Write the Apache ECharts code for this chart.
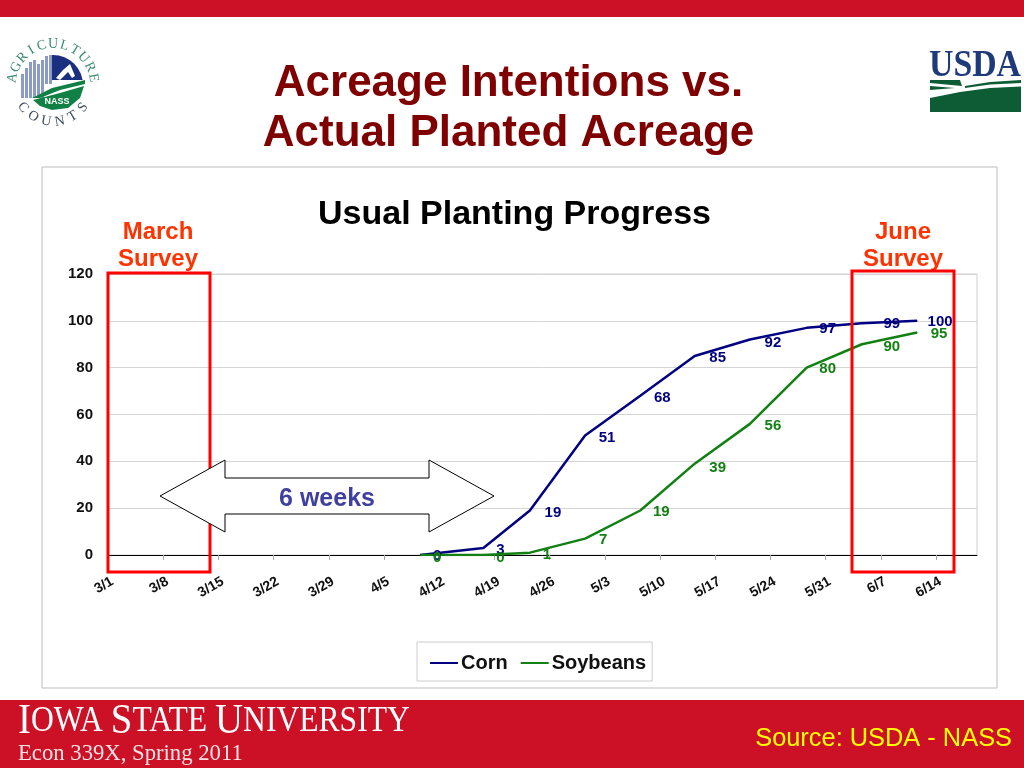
<!DOCTYPE html>
<html><head><meta charset="utf-8">
<style>html,body{margin:0;padding:0;background:#fff}#c{width:1024px;height:768px}</style>
<script src="https://cdn.jsdelivr.net/npm/echarts@6/dist/echarts.min.js"></script>
</head><body><div id="c"></div>
<script>
const tickLabels = ['3/1','3/8','3/15','3/22','3/29','4/5','4/12','4/19','4/26','5/3','5/10','5/17','5/24','5/31','6/7','6/14'];
const surveyDays = [39.6,47.6,53.5,60.5,67.5,74.4,81.4,88.6,95.6,102.6];
const cornValues = [0,3,19,51,68,85,92,97,99,100];
const soyValues = [0,0,1,7,19,39,56,80,90,95];

const cornOffsets = [[17,1],[17,2],[23,2],[22,2],[22,2],[23,2],[23,3],[21,1],[30,1],[23,1]];
const soyOffsets = [[17,3],[17,3],[17,2],[18,1],[21,1],[23,4],[23,2],[21,1],[30,3],[22,1]];
const F = '"Liberation Sans",Arial,sans-serif';
const S = '"Liberation Serif","Times New Roman",serif';

function series(name, values, offsets, color) {
  return {
    name, type:'line', symbol:'circle', symbolSize:1, showSymbol:true, showAllSymbol:true,
    lineStyle:{color, width:2.5}, itemStyle:{color},
    z:3, animation:false,
    labelLayout:p=>({dx:offsets[p.dataIndex][0], dy:offsets[p.dataIndex][1]}),
    data: values.map((v,i)=>({
      value:[surveyDays[i], v],
      label:{show:true, position:'inside', formatter:String(v),
             color, fontFamily:F, fontWeight:'bold', fontSize:15}
    }))
  };
}
function arcText(text, cx, cy, r, startDeg, stepDeg, color, inward) {
  return text.split('').map((ch,i)=>{
    const a = (startDeg + stepDeg*i) * Math.PI/180;
    return {type:'text', x:cx+r*Math.cos(a), y:cy-r*Math.sin(a), rotation: a + (inward? Math.PI/2 : -Math.PI/2),
      style:{text:ch, fill:color, font:'14px '+S, align:'center', verticalAlign:'middle'}, z:20};
  });
}
const logoBars = [];
[21,25,29,33,37,41,45,49].forEach((x,i)=>{
  const top = [74,68,62,60,64,60,56,55][i];
  logoBars.push({type:'rect', shape:{x, y:top, width:3, height:98-top-(i>5?14:0)}, style:{fill:'#8d9cc6'}, z:20});
});
const graphic = [
  {type:'rect', shape:{x:0,y:0,width:1024,height:17}, style:{fill:'#CC1126'}, z:1},
  {type:'rect', shape:{x:0,y:700,width:1024,height:68}, style:{fill:'#CC1126'}, z:1},
  {type:'rect', shape:{x:42,y:167,width:955,height:521}, style:{fill:'none',stroke:'#bdbdbd',lineWidth:1}, z:1},
  {type:'text', x:508.5, y:84, style:{text:'Acreage Intentions vs.', fill:'#7F0000', font:'bold 44px '+F, align:'center', verticalAlign:'middle'}, z:10},
  {type:'text', x:508.5, y:134, style:{text:'Actual Planted Acreage', fill:'#7F0000', font:'bold 44px '+F, align:'center', verticalAlign:'middle'}, z:10},
  {type:'text', x:514.5, y:215, style:{text:'Usual Planting Progress', fill:'#000', font:'bold 34px '+F, align:'center', verticalAlign:'middle'}, z:10},
  {type:'text', x:158, y:232, style:{text:'March', fill:'#FF3300', font:'bold 24px '+F, align:'center', verticalAlign:'middle'}, z:10},
  {type:'text', x:158, y:259, style:{text:'Survey', fill:'#FF3300', font:'bold 24px '+F, align:'center', verticalAlign:'middle'}, z:10},
  {type:'text', x:903, y:232, style:{text:'June', fill:'#FF3300', font:'bold 24px '+F, align:'center', verticalAlign:'middle'}, z:10},
  {type:'text', x:903, y:259, style:{text:'Survey', fill:'#FF3300', font:'bold 24px '+F, align:'center', verticalAlign:'middle'}, z:10},
  {type:'rect', shape:{x:108,y:273,width:102,height:299}, style:{fill:'none',stroke:'#FF0000',lineWidth:3}, z:12},
  {type:'rect', shape:{x:852,y:271,width:102,height:301}, style:{fill:'none',stroke:'#FF0000',lineWidth:3}, z:12},
  {type:'polygon', shape:{points:[[160,496],[225,460],[225,478],[429,478],[429,460],[494,496],[429,532],[429,514],[225,514],[225,532]]},
    style:{fill:'#fff',stroke:'#000',lineWidth:1}, z:13},
  {type:'text', x:327, y:499, style:{text:'6 weeks', fill:'#3F3F9F', font:'bold 25px '+F, align:'center', verticalAlign:'middle'}, z:14},
  {type:'text', x:18, y:722, scaleX:0.903, style:{
    text:'{a|I}{b|OWA }{a|S}{b|TATE }{a|U}{b|NIVERSITY}', rich:{
      a:{fill:'#fff', font:'43px '+S}, b:{fill:'#fff', font:'35px '+S}},
    verticalAlign:'middle', align:'left'}, z:10},
  {type:'text', x:18, y:754, style:{text:'Econ 339X, Spring 2011', fill:'#F6E3E3', font:'22.7px '+S, verticalAlign:'middle'}, z:10},
  {type:'text', x:1012, y:739, style:{text:'Source: USDA - NASS', fill:'#FFFF00', font:'25.4px '+F, align:'right', verticalAlign:'middle'}, z:10},
  // NASS logo
  {type:'sector', shape:{cx:53,cy:85,r0:0,r:30,startAngle:Math.PI,endAngle:2*Math.PI}, style:{fill:'#1A2F80'}, z:19},
  {type:'rect', shape:{x:20,y:54,width:32,height:40}, style:{fill:'#fff'}, z:19},
  {type:'rect', shape:{x:50,y:80,width:36,height:8}, style:{fill:'#fff'}, z:19},
  ...logoBars,
  {type:'polygon', smooth:0.4, shape:{points:[[56,78],[63,70],[70,64],[75,76],[72,78],[68,72],[60,80]]}, style:{fill:'#fff'}, z:20},
  {type:'polygon', shape:{points:[[32,98],[52,88],[85,80],[85,84],[60,90],[40,98]]}, style:{fill:'#118044'}, z:21},
  {type:'polygon', smooth:0.3, shape:{points:[[33,100],[60,93],[84,86],[80,98],[68,108],[52,110],[40,106]]}, style:{fill:'#118044'}, z:21},
  {type:'text', x:57, y:102, style:{text:'NASS', fill:'#fff', font:'bold 9px '+F, align:'center', verticalAlign:'middle'}, z:22},
  ...arcText('AGRICULTURE', 53, 85, 41, 170, -16, '#3a8a70', false),
  ...arcText('COUNTS', 53, 84, 38, 218, 20.8, '#3b4a5a', true),
  // USDA logo
  {type:'text', x:975, y:66, scaleX:0.89, style:{text:'USDA', fill:'#1F3A7A', font:'bold 38px '+S, align:'center', verticalAlign:'middle'}, z:20},
  {type:'polygon', shape:{points:[[930,98],[960,92],[990,88],[1021,86.5],[1021,112],[930,112]]}, style:{fill:'#0E5C36'}, z:21},
  {type:'polygon', shape:{points:[[965,86],[990,82],[1021,80],[1021,83],[990,84.5],[965,88]]}, style:{fill:'#0E5C36'}, z:21},
  {type:'polygon', shape:{points:[[930,80],[960,80],[962,86],[930,83]]}, style:{fill:'#0E5C36'}, z:21},
  {type:'polygon', shape:{points:[[930,86],[955,88],[930,90]]}, style:{fill:'#0E5C36'}, z:21}
];
const xTicks = tickLabels.map((_,i)=>i*7);
const chart = echarts.init(document.getElementById('c'), null, {renderer:'canvas'});
chart.setOption({
  animation:false,
  backgroundColor:'#fff',
  grid:{left:108, right:47, top:274, bottom:213, show:true, borderColor:'#cfcfcf', borderWidth:1, backgroundColor:'transparent'},
  legend:{
    left:417, top:642, padding:[11,6,8,13],
    backgroundColor:'#fff', borderColor:'#cccccc', borderWidth:1,
    icon:'rect', itemWidth:28, itemHeight:2, itemGap:13,
    textStyle:{fontFamily:F, fontWeight:'bold', fontSize:20, color:'#111', padding:[0,0,0,-2]},
    data:['Corn','Soybeans']
  },
  xAxis:{
    type:'value', min:0, max:110.2, splitLine:{show:false},
    axisLine:{show:true, onZero:true, lineStyle:{color:'#000', width:1}},
    axisTick:{show:true, length:5, customValues:xTicks, lineStyle:{color:'#aaa'}},
    axisLabel:{
      customValues:xTicks,
      rotate:30, align:'right', verticalAlign:'middle', margin:28, padding:[0,-5,0,0], hideOverlap:false,
      fontFamily:F, fontWeight:'bold', fontSize:14, color:'#111',
      formatter:v=> (tickLabels[v/7] ?? '')
    }
  },
  yAxis:{
    type:'value', min:0, max:120, interval:20,
    axisLine:{show:false}, axisTick:{show:false},
    splitLine:{show:true, lineStyle:{color:'#d4d4d4', width:1}},
    axisLabel:{margin:15, padding:[6,0,0,0], fontFamily:F, fontWeight:'bold', fontSize:15, color:'#111'}
  },
  series:[
    series('Corn', cornValues, cornOffsets, '#000080'),
    series('Soybeans', soyValues, soyOffsets, '#138013')
  ],
  graphic:{elements:graphic}
});
</script></body></html>
